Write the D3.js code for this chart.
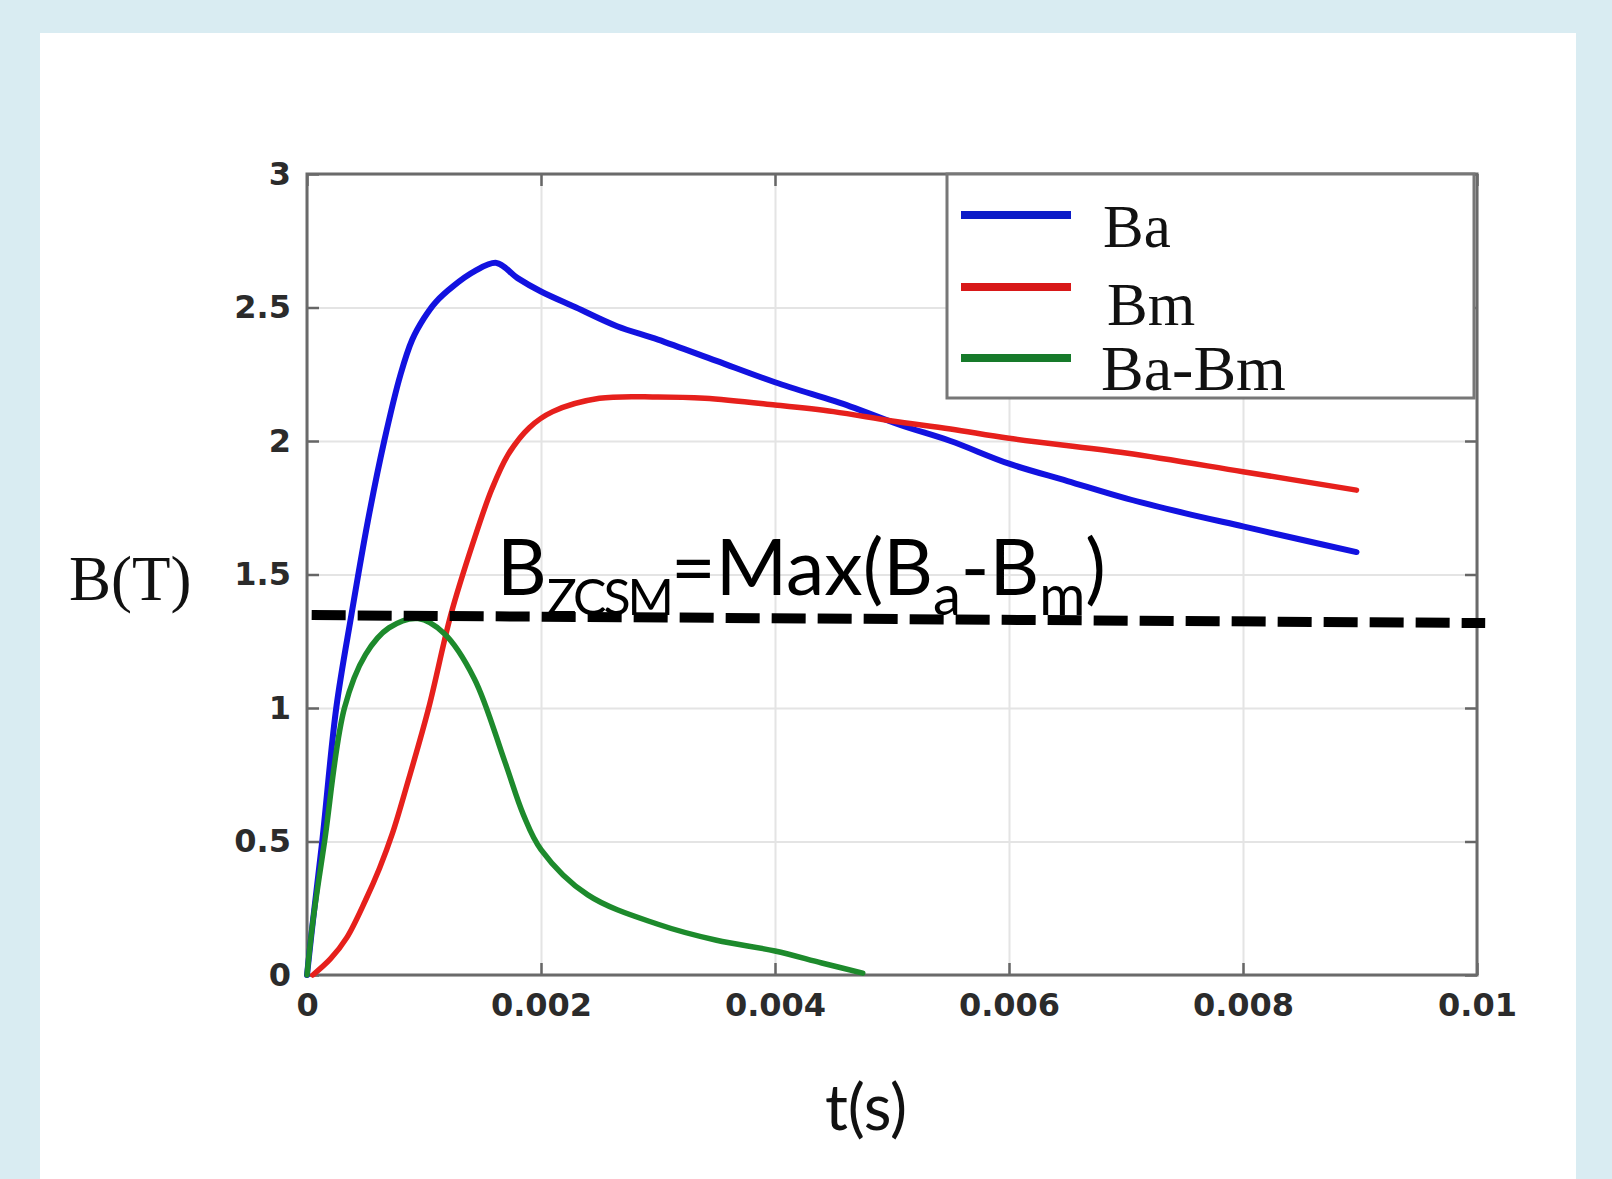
<!DOCTYPE html>
<html>
<head>
<meta charset="utf-8">
<script src="https://cdn.jsdelivr.net/npm/d3@7"></script>
<style>
  body { margin: 0; background: #d9ecf2; }
  svg { display: block; }
</style>
</head>
<body>
<svg id="chart" width="1612" height="1179"></svg>
<script>
// time in seconds, field in tesla
const baT = [0, 0.00005, 0.00013, 0.00025, 0.00038, 0.00052, 0.00066, 0.0008, 0.0009, 0.001, 0.0011, 0.00125, 0.00143, 0.00162, 0.0018, 0.002, 0.0023, 0.00265, 0.0030, 0.0035, 0.004, 0.00464, 0.00507, 0.0055, 0.006, 0.0065, 0.007, 0.0075, 0.008, 0.0085, 0.00897];
const baB = [0, 0.2, 0.5, 1.0, 1.35, 1.7, 2.0, 2.25, 2.38, 2.46, 2.52, 2.58, 2.635, 2.667, 2.61, 2.56, 2.5, 2.43, 2.38, 2.3, 2.22, 2.13, 2.06, 2.0, 1.915, 1.85, 1.785, 1.73, 1.68, 1.63, 1.584];

const bmT = [0.00005, 0.0002, 0.00034, 0.0005, 0.00062, 0.00073, 0.00086, 0.00104, 0.00123, 0.00142, 0.00158, 0.00172, 0.0019, 0.0021, 0.0025, 0.003, 0.0034, 0.004, 0.0045, 0.005, 0.0055, 0.006, 0.007, 0.008, 0.00897];
const bmB = [0, 0.06, 0.14, 0.28, 0.4, 0.53, 0.72, 1.0, 1.35, 1.62, 1.82, 1.95, 2.05, 2.11, 2.16, 2.165, 2.16, 2.135, 2.11, 2.075, 2.045, 2.01, 1.955, 1.885, 1.816];

const diffT = [0, 0.00005, 0.00015, 0.00032, 0.0005, 0.0007, 0.00095, 0.00117, 0.00143, 0.00169, 0.00185, 0.002, 0.0024, 0.003, 0.0035, 0.004, 0.0044, 0.00475];
const diffB = [0, 0.2, 0.5, 1.0, 1.2, 1.3, 1.335, 1.28, 1.11, 0.8, 0.6, 0.47, 0.3, 0.19, 0.13, 0.09, 0.045, 0.007];

const dashT = [0.00004, 0.01007];
const dashB = [1.348, 1.318];

const xTicks = [0, 0.002, 0.004, 0.006, 0.008, 0.01];
const xTickLabels = ['0', '0.002', '0.004', '0.006', '0.008', '0.01'];
const yTicks = [0, 0.5, 1, 1.5, 2, 2.5, 3];
const yTickLabels = ['0', '0.5', '1', '1.5', '2', '2.5', '3'];

const seriesNames = ['Ba', 'Bm', 'Ba-Bm'];
const seriesColors = ['#1212e0', '#e6201c', '#1d8a2c'];
const seriesWidths = [6, 5.5, 5.5];
const legendColors = ['#0c1cc8', '#d81818', '#167a2a'];

const svg = d3.select('#chart');

svg.append('rect')
    .attr('x', 40).attr('y', 33)
    .attr('width', 1536).attr('height', 1146)
    .attr('fill', '#ffffff');

const plotLeft = 307, plotRight = 1477, plotTop = 174, plotBottom = 975;
const x = d3.scaleLinear().domain([0, 0.01]).range([plotLeft, plotRight]);
const y = d3.scaleLinear().domain([0, 3]).range([plotBottom, plotTop]);

// grid
svg.append('g')
    .attr('transform', `translate(0,${plotBottom})`)
    .call(d3.axisBottom(x).tickValues(xTicks).tickSize(-(plotBottom - plotTop)).tickFormat(''))
    .call(g => g.select('.domain').remove())
    .call(g => g.selectAll('line').attr('stroke', '#e4e4e4').attr('stroke-width', 2));

svg.append('g')
    .attr('transform', `translate(${plotLeft},0)`)
    .call(d3.axisLeft(y).tickValues(yTicks).tickSize(-(plotRight - plotLeft)).tickFormat(''))
    .call(g => g.select('.domain').remove())
    .call(g => g.selectAll('line').attr('stroke', '#e4e4e4').attr('stroke-width', 2));

// frame ticks, pointing inward on all four sides
const frameTicks = [
    { axis: d3.axisBottom(x).tickValues(xTicks), pos: `translate(0,${plotBottom})` },
    { axis: d3.axisTop(x).tickValues(xTicks), pos: `translate(0,${plotTop})` },
    { axis: d3.axisLeft(y).tickValues(yTicks), pos: `translate(${plotLeft},0)` },
    { axis: d3.axisRight(y).tickValues(yTicks), pos: `translate(${plotRight},0)` }
];
frameTicks.forEach(f => {
    svg.append('g')
        .attr('transform', f.pos)
        .call(f.axis.tickSizeInner(-12).tickSizeOuter(0).tickFormat(''))
        .call(g => g.select('.domain').remove())
        .call(g => g.selectAll('line').attr('stroke', '#666').attr('stroke-width', 2.5));
});

svg.append('rect')
    .attr('x', plotLeft).attr('y', plotTop)
    .attr('width', plotRight - plotLeft).attr('height', plotBottom - plotTop)
    .attr('fill', 'none')
    .attr('stroke', '#6a6a6a')
    .attr('stroke-width', 3);

// tick labels
svg.append('g')
    .attr('transform', `translate(0,${plotBottom})`)
    .call(d3.axisBottom(x).tickValues(xTicks).tickSize(0).tickPadding(18)
        .tickFormat((d, i) => xTickLabels[i]))
    .call(g => g.select('.domain').remove())
    .call(g => g.selectAll('text')
        .attr('font-family', 'DejaVu Sans').attr('font-weight', 'bold')
        .attr('font-size', 32).attr('fill', '#2b2b2b'));

svg.append('g')
    .attr('transform', `translate(${plotLeft},0)`)
    .call(d3.axisLeft(y).tickValues(yTicks).tickSize(0).tickPadding(16)
        .tickFormat((d, i) => yTickLabels[i]))
    .call(g => g.select('.domain').remove())
    .call(g => g.selectAll('text')
        .attr('font-family', 'DejaVu Sans').attr('font-weight', 'bold')
        .attr('font-size', 32).attr('fill', '#2b2b2b'));

// curves
const line = d3.line()
    .x(d => x(d[0]))
    .y(d => y(d[1]))
    .curve(d3.curveCatmullRom.alpha(0.5));

const series = [
    d3.zip(baT, baB),
    d3.zip(bmT, bmB),
    d3.zip(diffT, diffB)
];

series.forEach((pts, i) => {
    svg.append('path')
        .datum(pts)
        .attr('d', line)
        .attr('fill', 'none')
        .attr('stroke', seriesColors[i])
        .attr('stroke-width', seriesWidths[i])
        .attr('stroke-linejoin', 'round')
        .attr('stroke-linecap', 'round');
});

// legend
const legend = svg.append('g');
legend.append('rect')
    .attr('x', 947).attr('y', 174)
    .attr('width', 527).attr('height', 224)
    .attr('fill', '#fff')
    .attr('stroke', '#777')
    .attr('stroke-width', 3);

const legendLineY = [215, 287, 358];
const legendTextY = [247, 325, 390];
const legendTextX = [1103, 1107, 1101];
seriesNames.forEach((name, i) => {
    legend.append('line')
        .attr('x1', 961).attr('x2', 1071)
        .attr('y1', legendLineY[i]).attr('y2', legendLineY[i])
        .attr('stroke', legendColors[i])
        .attr('stroke-width', 8);
    legend.append('text')
        .attr('x', legendTextX[i]).attr('y', legendTextY[i])
        .attr('font-family', 'Liberation Serif')
        .attr('font-size', i === 2 ? 64 : 61)
        .attr('fill', '#111')
        .text(name);
});

// dashed max line
svg.append('path')
    .datum(d3.zip(dashT, dashB))
    .attr('d', d3.line().x(d => x(d[0])).y(d => y(d[1])))
    .attr('fill', 'none')
    .attr('stroke', '#000')
    .attr('stroke-width', 10)
    .attr('stroke-dasharray', '34 12');

// annotation
const note = svg.append('text')
    .attr('x', 497).attr('y', 595)
    .attr('font-family', 'Lato')
    .attr('fill', '#000');
const parts = [
    { t: 'B', sub: false },
    { t: 'ZCSM', sub: true },
    { t: '=Max(B', sub: false },
    { t: 'a', sub: true },
    { t: '-B', sub: false },
    { t: 'm', sub: true },
    { t: ')', sub: false }
];
let shifted = false;
parts.forEach(p => {
    const dy = p.sub && !shifted ? 20 : (!p.sub && shifted ? -20 : 0);
    shifted = p.sub;
    note.append('tspan')
        .attr('dy', dy)
        .attr('font-size', p.t === 'ZCSM' ? 50 : (p.sub ? 56 : 77))
        .attr('letter-spacing', p.t === 'ZCSM' ? -3 : 0)
        .text(p.t);
});

// axis titles
svg.append('text')
    .attr('x', 69).attr('y', 600)
    .attr('font-family', 'Liberation Serif')
    .attr('font-size', 63)
    .attr('fill', '#111')
    .text('B(T)');

svg.append('text')
    .attr('x', 866).attr('y', 1130)
    .attr('text-anchor', 'middle')
    .attr('font-family', 'Lato')
    .attr('font-size', 64)
    .attr('fill', '#111')
    .text('t(s)');
</script>
</body>
</html>
